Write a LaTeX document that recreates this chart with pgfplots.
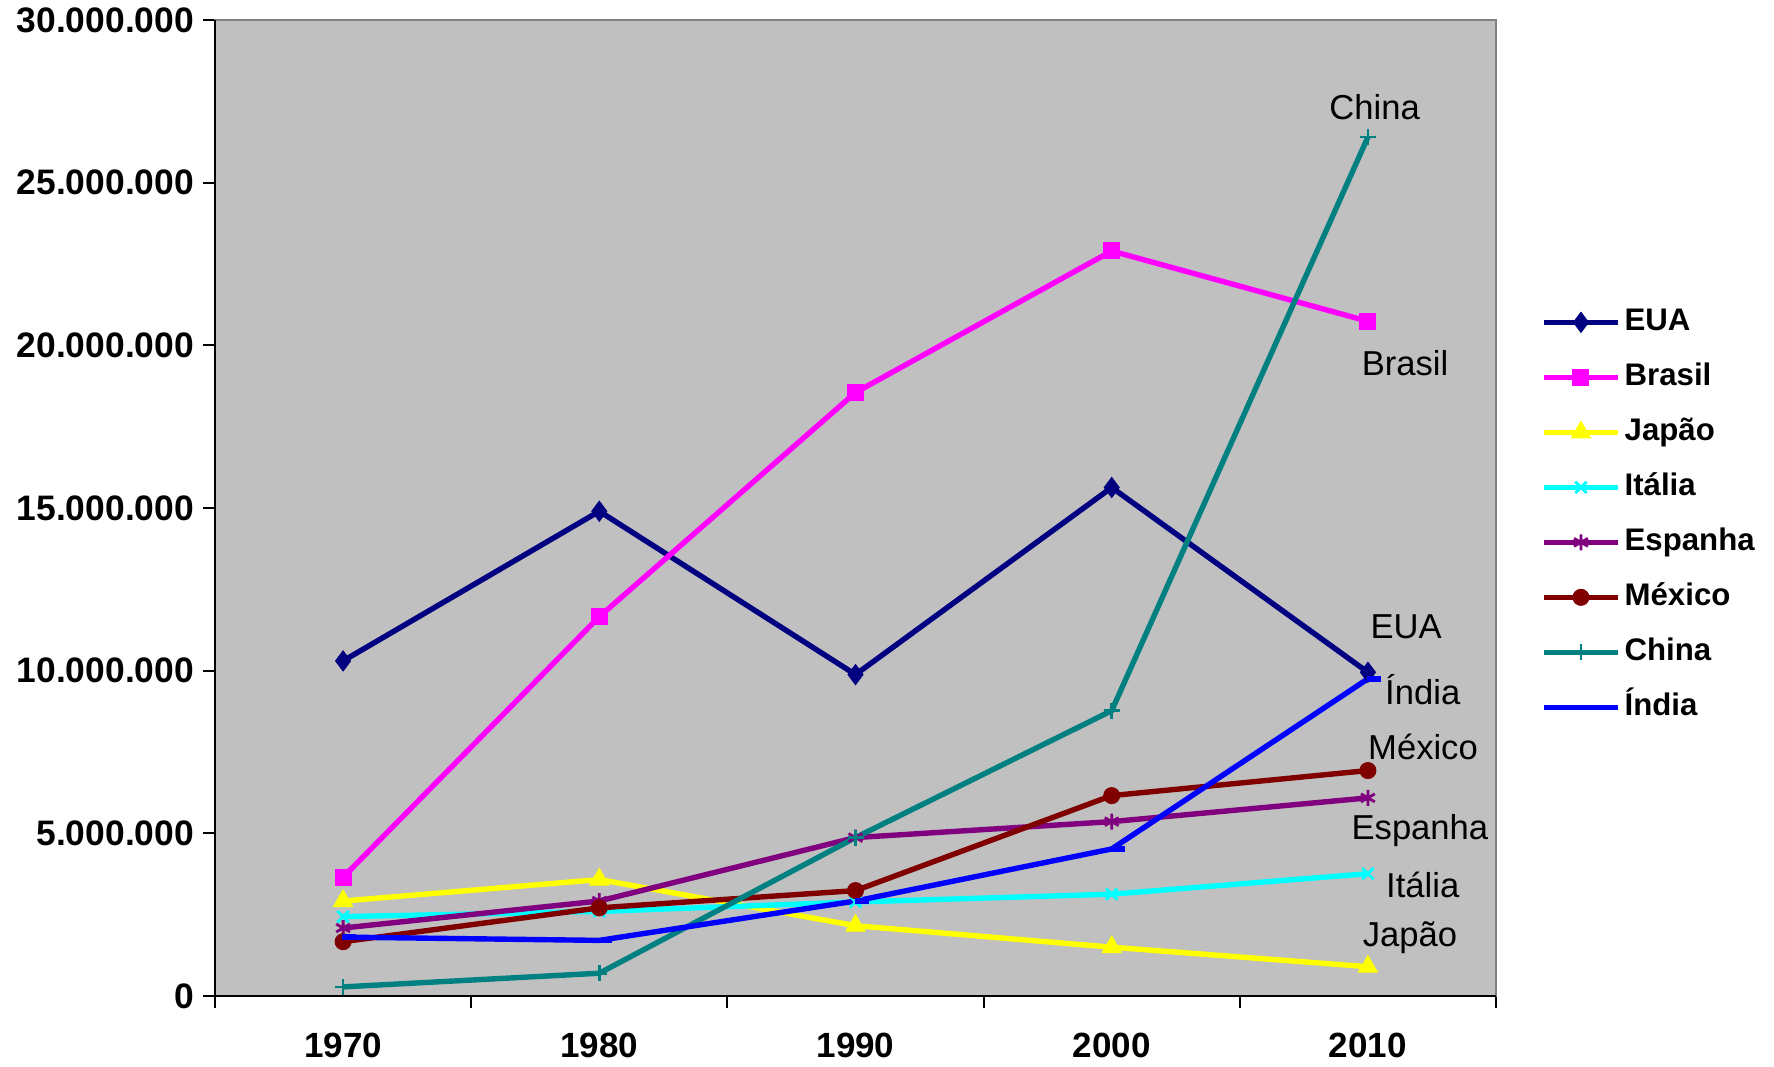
\documentclass[border=0pt]{standalone}
\usepackage{fontspec}
\setmainfont{Liberation Sans}
\usepackage{pgfplots}
\pgfplotsset{compat=1.18}

\definecolor{bgplot}{RGB}{192,192,192}
\definecolor{ceua}{RGB}{0,0,128}
\definecolor{cbrasil}{RGB}{255,0,255}
\definecolor{cjapao}{RGB}{255,255,0}
\definecolor{citalia}{RGB}{0,255,255}
\definecolor{cespanha}{RGB}{128,0,128}
\definecolor{cmexico}{RGB}{128,0,0}
\definecolor{cchina}{RGB}{0,128,128}
\definecolor{cindia}{RGB}{0,0,255}

\begin{document}
\begin{tikzpicture}
\begin{axis}[
    name=ax,
    scale only axis,
    width=640.5pt, height=488pt,
    xmin=1965, xmax=2015,
    ymin=0, ymax=30000000,
    axis background/.style={fill=bgplot},
    axis line style={draw=gray, line width=0.8pt},
    tick align=outside,
    xtick pos=bottom, ytick pos=left,
    tick style={black, line width=1pt},
    major tick length=6pt,
    xtick={1965,1975,1985,1995,2005,2015},
    xticklabels={},
    extra x ticks={1970,1980,1990,2000,2010},
    extra x tick style={major tick length=0pt},
    extra x tick labels={1970,1980,1990,2000,2010},
    xticklabel style={font=\bfseries\fontsize{17.5}{20}\selectfont, yshift=-15pt},
    ytick={0,5000000,10000000,15000000,20000000,25000000,30000000},
    scaled y ticks=false,
    yticklabel style={font=\bfseries\fontsize{17.7}{20}\selectfont, xshift=-1pt,
        /pgf/number format/.cd, fixed, precision=0, 1000 sep={.}},
    /pgf/number format/assume math mode=true,
    legend style={at={(1.035,0.493)}, anchor=west, draw=none, fill=none,
        inner sep=0pt,
        font=\bfseries\fontsize{15.6}{18}\selectfont,
        nodes={text height=11.5pt, text depth=3.5pt, inner sep=2pt},
        row sep=8.5pt},
    legend cell align=left,
    legend image code/.code={
        \draw[mark repeat=2, mark phase=2]
        plot coordinates {(0pt,0pt) (18.5pt,0pt) (37pt,0pt)};},
    every axis plot/.append style={line width=2.7pt},
    clip=false,
]
\addplot[ceua, mark=diamond*, mark size=5pt, mark options={solid, line width=0.5pt}]
  coordinates {(1970,10300000) (1980,14900000) (1990,9880000) (2000,15630000) (2010,9950000)};
\addlegendentry{EUA}
\addplot[cbrasil, mark=square*, mark size=4pt, mark options={solid, line width=0.5pt}]
  coordinates {(1970,3650000) (1980,11660000) (1990,18550000) (2000,22900000) (2010,20740000)};
\addlegendentry{Brasil}
\addplot[cjapao, mark=triangle*, mark size=5.5pt, mark options={solid, line width=0.5pt}]
  coordinates {(1970,2920000) (1980,3580000) (1990,2160000) (2000,1500000) (2010,900000)};
\addlegendentry{Japão}
\addplot[citalia, mark=x, mark size=4pt, mark options={solid, line width=1.4pt}]
  coordinates {(1970,2440000) (1980,2600000) (1990,2890000) (2000,3130000) (2010,3760000)};
\addlegendentry{Itália}
\addplot[cespanha, mark=asterisk, mark size=4pt, mark options={solid, line width=1.4pt}]
  coordinates {(1970,2090000) (1980,2920000) (1990,4870000) (2000,5360000) (2010,6090000)};
\addlegendentry{Espanha}
\addplot[cmexico, mark=*, mark size=4pt, mark options={solid, line width=0.5pt}]
  coordinates {(1970,1670000) (1980,2710000) (1990,3240000) (2000,6160000) (2010,6930000)};
\addlegendentry{México}
\addplot[cchina, mark=+, mark size=4pt, mark options={solid, line width=1.3pt}]
  coordinates {(1970,280000) (1980,700000) (1990,4870000) (2000,8770000) (2010,26400000)};
\addlegendentry{China}
\addplot[cindia, mark=-, mark size=3.5pt, mark options={solid, line width=2.7pt, xshift=3pt}]
  coordinates {(1970,1810000) (1980,1710000) (1990,2920000) (2000,4520000) (2010,9750000)};
\addlegendentry{Índia}

\draw[black, line width=1.2pt] (rel axis cs:0,1) -- (rel axis cs:0,0) -- (rel axis cs:1,0);

\begin{scope}[every node/.style={font=\fontsize{17.3}{20}\selectfont, anchor=center, inner sep=0pt}]
\node at (axis cs:2010.26,27310000) {China};
\node at (axis cs:2011.45,19460000) {Brasil};
\node at (axis cs:2011.49,11350000) {EUA};
\node at (axis cs:2012.14,9410000) {Índia};
\node at (axis cs:2012.15,7660000) {México};
\node at (axis cs:2012.03,5100000) {Espanha};
\node at (axis cs:2012.14,3410000) {Itália};
\node at (axis cs:2011.64,1800000) {Japão};
\end{scope}
\end{axis}
\pgfresetboundingbox
\path ([shift={(-107.5pt,-35pt)}]ax.south west) rectangle ([shift={(139pt,10pt)}]ax.north east);
\end{tikzpicture}
\end{document}
